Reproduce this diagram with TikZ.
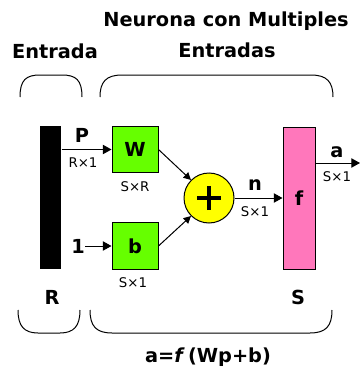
\documentclass[tikz,border=0pt]{standalone}
\usepackage{fontspec}
\setmainfont{DejaVu Sans}
\usetikzlibrary{arrows.meta}
\definecolor{nngreen}{HTML}{66FF00}
\definecolor{nnpink}{HTML}{FF77BB}
\definecolor{nnyellow}{HTML}{FFFF00}
\begin{document}
\begin{tikzpicture}[x=0.75pt, y=-0.75pt, line width=0.75pt,
    big/.style={font=\fontsize{14.5}{16}\selectfont\bfseries, inner sep=0pt},
    small/.style={font=\fontsize{10}{12}\selectfont, inner sep=0pt},
    wbox/.style={draw, fill=nngreen, inner sep=0pt, minimum width=34.5pt, minimum height=35pt,
        font=\fontsize{14.5}{16}\selectfont\bfseries},
    sig/.style={-{Triangle[length=6.5pt, width=7pt]}},
    sigsmall/.style={-{Triangle[length=5.5pt, width=5.5pt]}}]
    \useasboundingbox (0,0) rectangle (360,371);

    % titulos
    \node[big] (tneu) at (226,21) {Neurona con Multiples};
    \node[big] (tent) at (227,50) {Entradas};
    \node[big] (tin) at (55,51) {Entrada};

    % llaves de arriba
    \draw (20,97) .. controls (20,80) and (26,75) .. (40,75) -- (62,75) .. controls (76,75) and (82,80) .. (82,97);
    \draw (100,97) .. controls (100,82) and (106,75) .. (122,75) -- (311,75) .. controls (327,75) and (333,82) .. (333,97);

    % entrada
    \node[fill=black, inner sep=0pt, minimum width=15.75pt, minimum height=107.25pt] (bar) at (50.5,197.5) {};
    \node[big] (R) at (52,297) {R};

    % pesos y bias
    \node[wbox] (W) at (135,149.5) {W};
    \node[wbox] (b) at (135,246) {b};
    \node[big] (P) at (82,135) {P};
    \node[small] (rdim) at (83,163) {R×1};
    \node[small] (wdim) at (135,187) {S×R};
    \node[big] (one) at (78,246) {1};
    \node[small] (bdim) at (133,283) {S×1};

    % sumador
    \node[draw, circle, fill=nnyellow, inner sep=0pt, minimum size=37.5pt] (sum) at (209,198) {};
    \draw[line width=2.8pt] ([xshift=-9pt]sum.center) -- ([xshift=9pt]sum.center);
    \draw[line width=2.8pt] ([yshift=-9pt]sum.center) -- ([yshift=9pt]sum.center);
    \node[big] (n) at (255,185) {n};
    \node[small] (ndim) at (255,212) {S×1};

    % funcion de transferencia
    \node[draw, fill=nnpink, inner sep=0pt, minimum width=24pt, minimum height=106.5pt] (f) at (299,198) {};
    \node[big] (fl) at (299,198) {f};
    \node[big] (S) at (298,297) {S};
    \node[big] (a) at (337,152) {a};
    \node[small] (adim) at (337,177) {S×1};
    \coordinate (aout) at (360,163);

    % conexiones
    \draw[sig] (bar.east |- W.west) -- (W.west);
    \draw[sig] (one.east) -- (b.west |- one.east);
    \draw[sigsmall] (W.east) -- (sum.135);
    \draw[sigsmall] (b.east) -- (sum.225);
    \draw[sig] (sum.east) -- (f.west |- sum.east);
    \draw[sig] (f.east |- aout) -- (aout);

    % llaves de abajo
    \draw (18,310) .. controls (18,326) and (24,333) .. (38,333) -- (60,333) .. controls (74,333) and (80,326) .. (80,310);
    \draw (90,310) .. controls (90,326) and (96,333) .. (112,333) -- (310,333) .. controls (326,333) and (332,326) .. (332,310);

    \node[big] (eq) at (208,357) {a=\textit{f}\,(Wp+b)};
\end{tikzpicture}
\end{document}
